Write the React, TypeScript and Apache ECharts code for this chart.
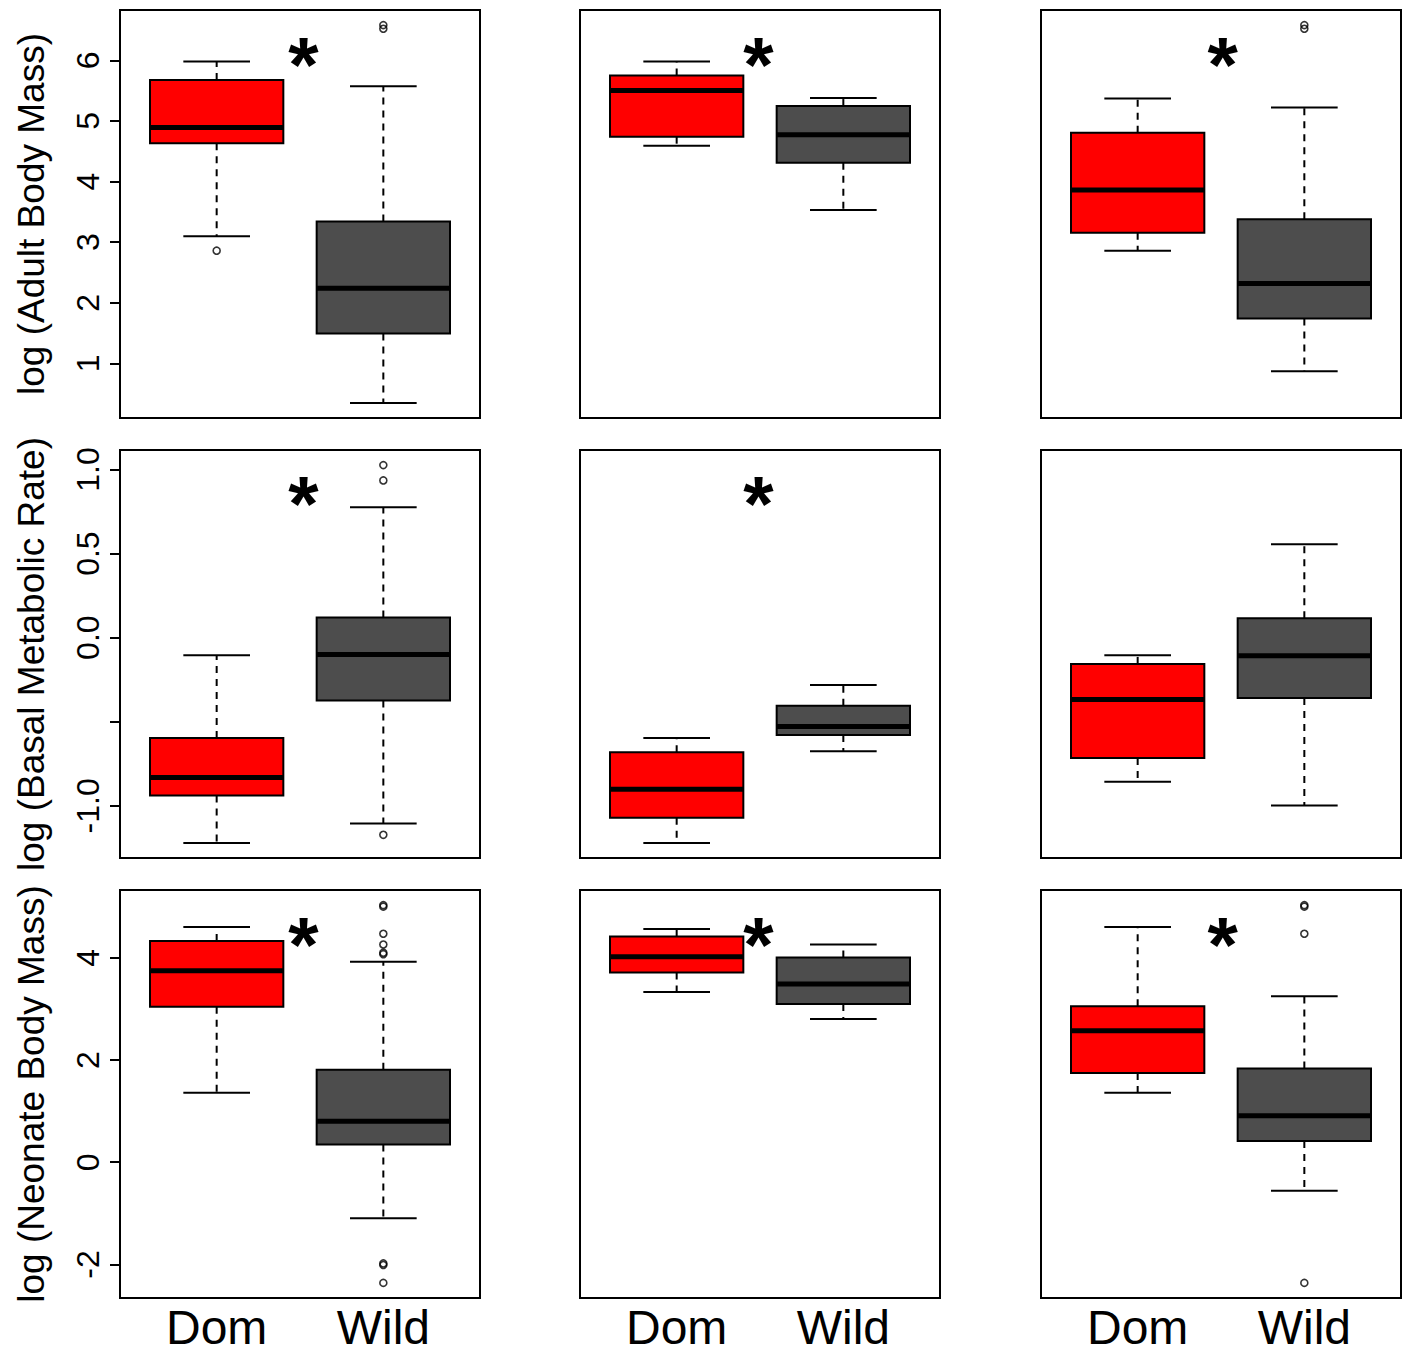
import React, { useEffect, useRef } from "react";
import * as echarts from "echarts";

// Group names on the x axis
const groups = ["Dom", "Wild"];

// Row titles (one trait per row)
const traitTitles = [
  "log (Adult Body Mass)",
  "log (Basal Metabolic Rate)",
  "log (Neonate Body Mass)",
];

// Box statistics per column: [lower whisker, Q1, median, Q3, upper whisker]
const adultMassDom = [
  [3.1, 4.63, 4.89, 5.675, 5.98],
  [4.59, 4.74, 5.5, 5.75, 5.98],
  [2.86, 3.155, 3.86, 4.805, 5.37],
];
const adultMassWild = [
  [0.35, 1.495, 2.24, 3.34, 5.57],
  [3.53, 4.31, 4.77, 5.245, 5.38],
  [0.87, 1.74, 2.32, 3.38, 5.22],
];
const adultMassDomOut = [[2.86], [], []];
const adultMassWildOut = [[6.52, 6.58], [], [6.52, 6.58]];

const bmrDom = [
  [-1.22, -0.938, -0.831, -0.597, -0.104],
  [-1.22, -1.071, -0.901, -0.681, -0.596],
  [-0.857, -0.715, -0.367, -0.156, -0.104],
];
const bmrWild = [
  [-1.105, -0.373, -0.1, 0.12, 0.776],
  [-0.675, -0.578, -0.528, -0.405, -0.282],
  [-0.998, -0.358, -0.108, 0.116, 0.556],
];
const bmrDomOut = [[], [], []];
const bmrWildOut = [[1.026, 0.935, -1.172], [], []];

const neonateDom = [
  [1.36, 3.04, 3.745, 4.33, 4.6],
  [3.33, 3.71, 4.02, 4.415, 4.565],
  [1.36, 1.745, 2.57, 3.05, 4.6],
];
const neonateWild = [
  [-1.095, 0.345, 0.8, 1.81, 3.92],
  [2.8, 3.095, 3.485, 4.005, 4.26],
  [-0.56, 0.415, 0.91, 1.835, 3.245],
];
const neonateDomOut = [[], [], []];
const neonateWildOut = [
  [5.0, 5.03, 4.47, 4.26, 4.1, 4.07, -1.98, -2.01, -2.36],
  [],
  [5.0, 5.03, 4.47, -2.36],
];

// Significance markers: x position per column, y per row/column (null = none)
const starX = [1.52, 1.49, 1.51];
const starY = [
  [6.08, 6.08, 6.08],
  [0.853, 0.853, null],
  [4.455, 4.455, 4.455],
];

// Y-axis ticks and labels per row
const yTicks = [
  [1, 2, 3, 4, 5, 6],
  [-1, -0.5, 0, 0.5, 1],
  [-2, 0, 2, 4],
];
const yLabels = [
  [1, 2, 3, 4, 5, 6],
  [-1, 0, 0.5, 1],
  [-2, 0, 2, 4],
];
const yLabelDigits = [0, 1, 0];

const rows = [
  { dom: adultMassDom, wild: adultMassWild, domOut: adultMassDomOut, wildOut: adultMassWildOut },
  { dom: bmrDom, wild: bmrWild, domOut: bmrDomOut, wildOut: bmrWildOut },
  { dom: neonateDom, wild: neonateWild, domOut: neonateDomOut, wildOut: neonateWildOut },
];

const FONT = "'Liberation Sans', Arial, Helvetica, sans-serif";
const FILLS = ["#FF0000", "#4D4D4D"];

// Panel geometry (pixels)
const colLeft = [120, 580, 1041];
const rowTop = [10, 450, 890];
const panelW = 360;
const panelH = 408;

// y range like R: data range padded by 4% on each side
function rowRange(r: number): [number, number] {
  const row = rows[r];
  const vals: number[] = [];
  for (let c = 0; c < 3; c++) {
    vals.push(...row.dom[c], ...row.wild[c], ...row.domOut[c], ...row.wildOut[c]);
  }
  const lo = Math.min(...vals);
  const hi = Math.max(...vals);
  const pad = (hi - lo) * 0.04;
  return [lo - pad, hi + pad];
}

function buildOption() {
  const grid: any[] = [];
  const xAxis: any[] = [];
  const yAxis: any[] = [];
  const series: any[] = [];

  for (let r = 0; r < 3; r++) {
    const [ymin, ymax] = rowRange(r);
    for (let c = 0; c < 3; c++) {
      const idx = r * 3 + c;
      grid.push({
        left: colLeft[c],
        top: rowTop[r],
        width: panelW,
        height: panelH,
        show: true,
        borderColor: "#000",
        borderWidth: 2,
        backgroundColor: "transparent",
      });
      const bottomRow = r === 2;
      xAxis.push({
        type: "value",
        gridIndex: idx,
        min: 0.42,
        max: 2.58,
        show: bottomRow,
        axisLine: { show: false },
        axisTick: { show: false },
        splitLine: { show: false },
        axisLabel: {
          show: bottomRow,
          customValues: [1, 2],
          formatter: (v: number) => groups[Math.round(v) - 1] ?? "",
          fontSize: 48,
          fontFamily: FONT,
          color: "#000",
          margin: 5,
        },
      });
      const firstCol = c === 0;
      yAxis.push({
        type: "value",
        gridIndex: idx,
        min: ymin,
        max: ymax,
        show: firstCol,
        name: firstCol ? traitTitles[r] : "",
        nameLocation: "middle",
        nameRotate: 90,
        nameGap: 70,
        nameTextStyle: { fontSize: 37, fontFamily: FONT, color: "#000" },
        axisLine: { show: false },
        splitLine: { show: false },
        axisTick: {
          show: firstCol,
          customValues: yTicks[r],
          length: 10,
          lineStyle: { color: "#000", width: 2 },
        },
        axisLabel: {
          show: firstCol,
          customValues: yLabels[r],
          rotate: 90,
          margin: 16,
          fontSize: 32,
          fontFamily: FONT,
          color: "#000",
          formatter: (v: number) => v.toFixed(yLabelDigits[r]),
        },
      });

      const row = rows[r];
      const boxData = [
        [1, ...row.dom[c], 0],
        [2, ...row.wild[c], 1],
      ];
      series.push({
        type: "custom",
        xAxisIndex: idx,
        yAxisIndex: idx,
        encode: { x: 0, y: [1, 2, 3, 4, 5] },
        data: boxData,
        renderItem: (params: any, api: any) => {
          const x = api.value(0);
          const yOf = (v: number) => api.coord([x, v])[1];
          const cx = api.coord([x, api.value(3)])[0];
          const yLo = yOf(api.value(1));
          const yQ1 = yOf(api.value(2));
          const yMed = yOf(api.value(3));
          const yQ3 = yOf(api.value(4));
          const yHi = yOf(api.value(5));
          const g = api.value(6);
          const halfBox = api.size([0.8, 0])[0] / 2;
          const halfCap = halfBox / 2;
          const dashStyle = { stroke: "#000", lineWidth: 2, lineDash: [7, 6], fill: null };
          const solid = { stroke: "#000", lineWidth: 2, fill: null };
          return {
            type: "group",
            children: [
              { type: "line", shape: { x1: cx, y1: yQ3, x2: cx, y2: yHi }, style: dashStyle },
              { type: "line", shape: { x1: cx, y1: yQ1, x2: cx, y2: yLo }, style: dashStyle },
              { type: "line", shape: { x1: cx - halfCap, y1: yHi, x2: cx + halfCap, y2: yHi }, style: solid },
              { type: "line", shape: { x1: cx - halfCap, y1: yLo, x2: cx + halfCap, y2: yLo }, style: solid },
              {
                type: "rect",
                shape: { x: cx - halfBox, y: yQ3, width: halfBox * 2, height: yQ1 - yQ3 },
                style: { fill: FILLS[g], stroke: "#000", lineWidth: 2 },
              },
              {
                type: "line",
                shape: { x1: cx - halfBox, y1: yMed, x2: cx + halfBox, y2: yMed },
                style: { stroke: "#000", lineWidth: 5 },
              },
            ],
          };
        },
        silent: true,
        z: 2,
      });

      const outData: number[][] = [];
      row.domOut[c].forEach((v) => outData.push([1, v]));
      row.wildOut[c].forEach((v) => outData.push([2, v]));
      if (outData.length) {
        series.push({
          type: "scatter",
          xAxisIndex: idx,
          yAxisIndex: idx,
          data: outData,
          symbol: "circle",
          symbolSize: 7,
          itemStyle: { color: "rgba(0,0,0,0)", borderColor: "#000", borderWidth: 1.6 },
          silent: true,
          z: 3,
        });
      }

      const sy = starY[r][c];
      if (sy !== null) {
        series.push({
          type: "custom",
          xAxisIndex: idx,
          yAxisIndex: idx,
          data: [[starX[c], sy]],
          silent: true,
          z: 4,
          renderItem: (params: any, api: any) => {
            const p = api.coord([api.value(0), api.value(1)]);
            return {
              type: "text",
              x: p[0],
              y: p[1] + 10,
              style: {
                text: "*",
                fontSize: 78,
                fontWeight: "bold",
                fontFamily: FONT,
                fill: "#000",
                align: "center",
                verticalAlign: "middle",
              },
            };
          },
        });
      }
    }
  }

  return {
    animation: false,
    backgroundColor: "#fff",
    grid,
    xAxis,
    yAxis,
    series,
  };
}

export default function App() {
  const ref = useRef<HTMLDivElement>(null);
  useEffect(() => {
    if (!ref.current) return;
    const chart = echarts.init(ref.current, undefined, { renderer: "svg" });
    chart.setOption(buildOption() as any);
    return () => chart.dispose();
  }, []);
  return (
    <div
      ref={ref}
      style={{ position: "absolute", left: 0, top: 0, width: 1403, height: 1354, background: "#fff" }}
    />
  );
}
